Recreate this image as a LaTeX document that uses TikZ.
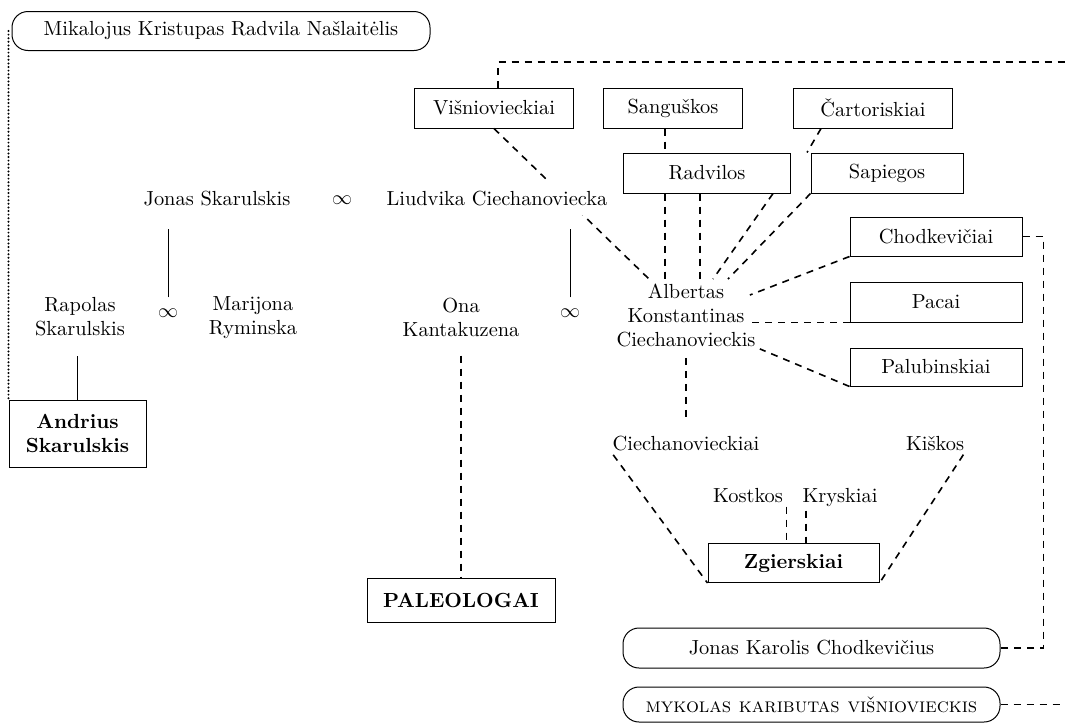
\documentclass[tikz,border=0pt]{standalone}
\usetikzlibrary{backgrounds}
\newcommand\treefont{\fontsize{10.2}{12}\selectfont}
\tikzset{
  house/.style={draw, line width=0.5pt, inner sep=0pt, align=center},
  heir/.style={house, font=\treefont\bfseries},
  ruler/.style={draw, line width=0.5pt, rounded corners=8pt, inner sep=0pt},
  person/.style={inner sep=2pt, align=center},
  wed/.style={inner sep=1pt},
  link/.style={line width=0.8pt, dash pattern=on 3.5pt off 3pt},
  kin/.style={line width=0.5pt},
  lineage/.style={line width=1.1pt, line cap=round, dash pattern=on 0pt off 1.8pt}
}
\begin{document}
\begin{tikzpicture}[x=0.5pt, y=-0.5pt, every node/.style={font=\treefont}]
  \useasboundingbox (0,0) rectangle (1065,723);

  % rulers in rounded frames
  \node[ruler, minimum width=209pt, minimum height=19.5pt] (mika) at (221,31) {Mikalojus Kristupas Radvila Našlaitėlis};
  \node[ruler, minimum width=188.5pt, minimum height=20pt] (jkch) at (811.5,648) {Jonas Karolis Chodkevičius};
  \node[ruler, minimum width=188.5pt, minimum height=17.5pt] (myko) at (811.5,704.5) {\textsc{mykolas kaributas višniovieckis}};

  % houses
  \node[house, minimum width=79.5pt, minimum height=20pt] (vis) at (494,108) {Višniovieckiai};
  \node[house, minimum width=69.5pt, minimum height=20pt] (sang) at (673,108) {Sanguškos};
  \node[house, minimum width=79.5pt, minimum height=20pt] (cart) at (873,108) {Čartoriskiai};
  \node[house, minimum width=83.5pt, minimum height=20pt] (radv) at (707,173) {Radvilos};
  \node[house, minimum width=76pt, minimum height=20pt] (sapi) at (887,173) {Sapiegos};
  \node[house, minimum width=86pt, minimum height=19.5pt] (chod) at (936,236.5) {Chodkevičiai};
  \node[house, minimum width=86pt, minimum height=20pt] (paca) at (936,302) {Pacai};
  \node[house, minimum width=86pt, minimum height=19pt] (palu) at (936,367) {Palubinskiai};
  \node[heir, minimum width=85.5pt, minimum height=19.5pt] (zgie) at (793.5,563) {Zgierskiai};
  \node[heir, minimum width=94pt, minimum height=22pt] (pale) at (461,600) {PALEOLOGAI};
  \node[heir, minimum width=68.5pt, minimum height=33.5pt] (andr) at (77.5,433.5) {Andrius\\Skarulskis};

  % persons
  \node[person, anchor=base] (jona) at (217,205) {Jonas Skarulskis};
  \node[wed, anchor=base] (inf1) at (342,204) {$\infty$};
  \node[person, anchor=base, fill=white, inner sep=5pt] (liud) at (497,205) {Liudvika Ciechanoviecka};
  \node[person] (rapo) at (80,316.5) {Rapolas\\Skarulskis};
  \node[wed] (inf2) at (168,313) {$\infty$};
  \node[person] (mari) at (253,318) {Marijona\\Ryminska};
  \node[person] (ona) at (461,317) {Ona\\Kantakuzena};
  \node[wed] (inf3) at (570,313) {$\infty$};
  \node[person] (albe) at (686,315) {Albertas\\Konstantinas\\Ciechanovieckis};
  \node[person, anchor=base] (ciec) at (686,450) {Ciechanovieckiai};
  \node[person, anchor=base] (kisk) at (935,450) {Kiškos};
  \node[person, anchor=base] (kost) at (748,502) {Kostkos};
  \node[person, anchor=base] (krys) at (840,502) {Kryskiai};

  \coordinate (topR) at (1065,62);
  \coordinate (mykR) at (1065,704.5);

  \begin{scope}[on background layer]
    \fill[white] (0,0) rectangle (1065,723);
    % marriages and descent
    \draw[kin] (inf2.north) ++(0,-9) -- ++(0,-68);
    \draw[kin] (inf3.north) ++(0,-9) -- ++(0,-68);
    \draw[kin] (andr.north |- rapo.south) ++(0,16) -- (andr.north);
    \draw[lineage] (andr.north west |- mika.west) -- (andr.north west);
    \draw[link] (pale.north |- ona.south) ++(0,15) -- (pale.north);
    % Albertas and the houses
    \draw[link] (vis.south) -- (albe);
    \draw[link] ([xshift=-4pt]sang.south) -- ([xshift=-4pt]sang.south |- radv.north);
    \draw[link] ([xshift=-26pt]cart.south) -- ([xshift=50pt]radv.north);
    \draw[link] ([xshift=-21pt]radv.south) -- ([xshift=-21pt]radv.south |- albe.north);
    \draw[link] ([xshift=-3.5pt]radv.south) -- ([xshift=-3.5pt]radv.south |- albe.north);
    \draw[link] ([xshift=33pt]radv.south) -- ([xshift=13.5pt]albe.north);
    \draw[link] (sapi.south west) -- ([xshift=21pt]albe.north);
    \draw[link] (chod.south west) -- ([shift={(-5pt,10pt)}]albe.east);
    \draw[link] (paca.south west) -- ([xshift=-4pt]paca.south west -| albe.east);
    \draw[link] (palu.south west) -- ([yshift=1pt]albe.south east);
    \draw[link] (albe.south) ++(0,7) -- ([yshift=5pt]ciec.north);
    % Zgierskiai
    \draw[link] ([xshift=2.5pt]ciec.south west) -- (zgie.south west);
    \draw[link] ([xshift=-2.5pt]kisk.south east) -- (zgie.south east);
    \draw[link] ([xshift=-0.5pt]kost.south east) -- ([xshift=-0.5pt]kost.south east |- zgie.north);
    \draw[link] ([xshift=4pt]krys.south west) -- ([xshift=4pt]krys.south west |- zgie.north);
    % to the rulers
    \draw[link] ([xshift=2pt]vis.north) |- (topR);
    \draw[link] (chod.east) -- ++(21,0) |- (jkch.east);
    \draw[link] (myko.east) -- (mykR);
  \end{scope}
\end{tikzpicture}
\end{document}
